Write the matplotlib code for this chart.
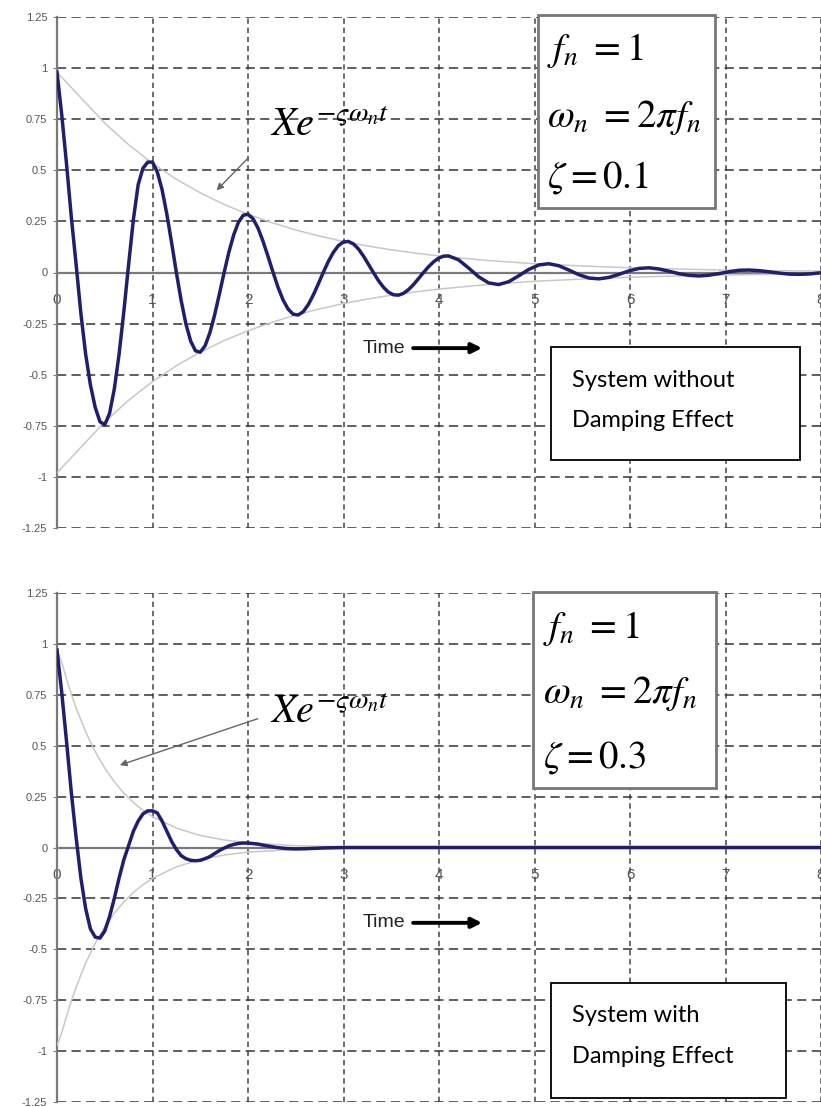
import numpy as np
import matplotlib
matplotlib.use("Agg")
import matplotlib.pyplot as plt
from matplotlib.patches import Rectangle

plt.rcParams['font.family'] = ['Liberation Sans', 'DejaVu Sans']
plt.rcParams['mathtext.fontset'] = 'stix'

# --- data ---
# zeta = 0.1 response
t_low = [0.0, 0.05, 0.1, 0.15, 0.2, 0.25, 0.3, 0.35, 0.4, 0.45,
         0.5, 0.55, 0.6, 0.65, 0.7, 0.75, 0.8, 0.85, 0.9, 0.95,
         1.0, 1.05, 1.1, 1.15, 1.2, 1.25, 1.3, 1.35, 1.4, 1.45,
         1.5, 1.55, 1.6, 1.65, 1.7, 1.75, 1.8, 1.85, 1.9, 1.95,
         2.0, 2.053, 2.105, 2.158, 2.21, 2.263, 2.315, 2.368, 2.42, 2.473,
         2.525, 2.578, 2.63, 2.683, 2.735, 2.788, 2.84, 2.893, 2.945, 2.998,
         3.05, 3.103, 3.155, 3.208, 3.26, 3.313, 3.365, 3.418, 3.47, 3.523,
         3.575, 3.628, 3.68, 3.733, 3.785, 3.838, 3.89, 3.943, 3.995, 4.048,
         4.1, 4.205, 4.31, 4.415, 4.52, 4.625, 4.73, 4.835, 4.94, 5.045,
         5.15, 5.255, 5.36, 5.465, 5.57, 5.675, 5.78, 5.885, 5.99, 6.095,
         6.2, 6.305, 6.41, 6.515, 6.62, 6.725, 6.83, 6.935, 7.04, 7.145,
         7.25, 7.355, 7.46, 7.565, 7.67, 7.775, 7.88, 7.985, 8.09]
x_low = [0.98, 0.77, 0.53, 0.27, 0.04, -0.20, -0.40, -0.55, -0.66, -0.73,
         -0.745, -0.69, -0.57, -0.40, -0.19, 0.04, 0.26, 0.43, 0.51, 0.54,
         0.54, 0.492, 0.406, 0.286, 0.146, 0.0, -0.137, -0.252, -0.336, -0.383,
         -0.39, -0.359, -0.296, -0.209, -0.106, 0.0, 0.10, 0.184, 0.246, 0.28,
         0.285, 0.263, 0.217, 0.152, 0.078, 0.0, -0.073, -0.135, -0.179, -0.204,
         -0.208, -0.192, -0.158, -0.111, -0.057, 0.0, 0.053, 0.098, 0.131, 0.149,
         0.152, 0.14, 0.116, 0.081, 0.041, 0.0, -0.039, -0.072, -0.096, -0.109,
         -0.111, -0.102, -0.084, -0.059, -0.03, 0.0, 0.028, 0.052, 0.07, 0.08,
         0.081, 0.062, 0.022, -0.021, -0.051, -0.059, -0.045, -0.016, 0.015, 0.037,
         0.043, 0.033, 0.012, -0.011, -0.027, -0.031, -0.024, -0.009, 0.008, 0.02,
         0.023, 0.017, 0.006, -0.006, -0.014, -0.017, -0.013, -0.005, 0.004, 0.011,
         0.012, 0.009, 0.003, -0.003, -0.008, -0.009, -0.007, -0.002, 0.002]
t_env_low = [0, 0.25, 0.5, 0.75, 1, 1.25, 1.5, 1.75, 2, 2.25, 2.5, 2.75, 3,
             3.25, 3.5, 3.75, 4, 4.5, 5, 5.5, 6, 6.5, 7, 7.5, 8]
env_low = [0.98, 0.855, 0.731, 0.625, 0.534, 0.456, 0.39, 0.333, 0.285, 0.244,
           0.208, 0.178, 0.152, 0.13, 0.111, 0.095, 0.081, 0.059, 0.043, 0.032,
           0.023, 0.017, 0.012, 0.009, 0.007]

# zeta = 0.3 response
t_high = [0.0, 0.05, 0.1, 0.15, 0.2, 0.25, 0.3, 0.35, 0.4, 0.45,
          0.5, 0.55, 0.6, 0.65, 0.7, 0.75, 0.8, 0.85, 0.9, 0.95,
          1.0, 1.05, 1.1, 1.15, 1.2, 1.25, 1.3, 1.35, 1.4, 1.45,
          1.5, 1.55, 1.6, 1.65, 1.7, 1.75, 1.8, 1.85, 1.9, 1.95,
          2.0, 2.1, 2.2, 2.3, 2.4, 2.5, 2.6, 2.8, 3.0, 4.0, 5.0, 6.0, 7.0, 8.0]
x_high = [0.97, 0.76, 0.52, 0.27, 0.05, -0.15, -0.30, -0.40, -0.44, -0.445,
          -0.41, -0.34, -0.25, -0.15, -0.06, 0.01, 0.08, 0.13, 0.165, 0.18,
          0.18, 0.17, 0.13, 0.08, 0.03, -0.01, -0.04, -0.055, -0.063, -0.065,
          -0.063, -0.055, -0.045, -0.03, -0.015, -0.003, 0.008, 0.015, 0.02, 0.022,
          0.022, 0.017, 0.008, 0.0, -0.005, -0.007, -0.006, -0.002, 0.0, 0.0,
          0.0, 0.0, 0.0, 0.0]
t_env_high = [0, 0.05, 0.1, 0.15, 0.2, 0.3, 0.4, 0.5, 0.6, 0.7, 0.8, 0.9, 1.0,
              1.25, 1.5, 1.75, 2, 2.5, 3, 4, 5, 6, 7, 8]
env_high = [0.97, 0.91, 0.828, 0.754, 0.686, 0.568, 0.471, 0.39, 0.323, 0.267,
            0.221, 0.183, 0.152, 0.095, 0.059, 0.037, 0.023, 0.009, 0.0035,
            0.0005, 0.0, 0.0, 0.0, 0.0]

x_ticks = [0, 1, 2, 3, 4, 5, 6, 7, 8]
y_ticks = [1.25, 1, 0.75, 0.5, 0.25, 0, -0.25, -0.5, -0.75, -1, -1.25]
y_labels = ['1.25', '1', '0.75', '0.5', '0.25', '0', '-0.25', '-0.5', '-0.75', '-1', '-1.25']

W, H = 821, 1107


def fx(px):
    return px / W


def fy(py):
    return 1 - py / H


fig = plt.figure(figsize=(W / 100, H / 100), dpi=100)
ax1 = fig.add_axes([fx(57), fy(528), 764 / W, 511 / H])
ax2 = fig.add_axes([fx(57), fy(1102), 764 / W, 509 / H])


def style(ax):
    ax.set_xlim(0, 8)
    ax.set_ylim(-1.25, 1.25)
    ax.set_xticks(x_ticks)
    ax.set_xticklabels([str(v) for v in x_ticks])
    ax.set_yticks(y_ticks)
    ax.set_yticklabels(y_labels)
    ax.set_axisbelow(True)
    ax.grid(axis='y', color='#333333', lw=1.1, linestyle=(0, (6, 3.5)))
    ax.grid(axis='x', color='#444444', lw=1.1, linestyle=(0, (3.5, 2.5)))
    for s in ['top', 'right']:
        ax.spines[s].set_visible(False)
    ax.spines['bottom'].set_position(('data', 0))
    ax.spines['bottom'].set_color('#7a7a7a')
    ax.spines['bottom'].set_linewidth(1.6)
    ax.spines['left'].set_color('#7a7a7a')
    ax.spines['left'].set_linewidth(1.6)
    ax.tick_params(axis='x', length=0, pad=15, labelsize=11, labelcolor='#555555')
    ax.tick_params(axis='y', length=3, pad=4, labelsize=8, labelcolor='#555555',
                   color='#7a7a7a')


for ax, t, x, te, env, lbl_y, arr_from, arr_to in [
        (ax1, t_low, x_low, t_env_low, env_low, 0.667, (2.02, 0.569), (1.65, 0.392)),
        (ax2, t_high, x_high, t_env_high, env_high, 0.613, (2.13, 0.637), (0.63, 0.40))]:
    style(ax)
    ax.plot(te, env, color='#c8c8c8', lw=1.1, zorder=3)
    ax.plot(te, [-v for v in env], color='#c8c8c8', lw=1.1, zorder=3)
    ax.plot(t, x, color='#1f1f6e', lw=2.5, zorder=4)
    ax.annotate('', xy=arr_to, xytext=arr_from,
                arrowprops=dict(arrowstyle='-|>', color='#666666', lw=1.0,
                                mutation_scale=10))
    ax.text(2.23, lbl_y, r'$Xe^{-\varsigma\omega_n t}$', fontsize=29, va='baseline')
    ax.text(3.2, -0.37, 'Time', fontsize=14, va='center', ha='left', color='#222222')
    ax.annotate('', xy=(4.48, -0.37), xytext=(3.7, -0.37),
                arrowprops=dict(arrowstyle='-|>', color='black', lw=2.8,
                                mutation_scale=15))

# parameter boxes
for (x0, y0, x1, y1), zeta, tx, bases in [
        ((538, 15, 715, 208), '0.1', 547, (60, 127, 188)),
        ((533, 592, 716, 788), '0.3', 543, (638, 703, 768))]:
    fig.add_artist(Rectangle((fx(x0), fy(y1)), (x1 - x0) / W, (y1 - y0) / H,
                             transform=fig.transFigure, facecolor='white',
                             edgecolor='#777777', lw=2.0))
    lines = [r'$f_n\ = 1$', r'$\omega_n\ = 2\pi f_n$', r'$\zeta = ' + zeta + '$']
    for s, b in zip(lines, bases):
        fig.text(fx(tx), fy(b), s, fontsize=28, va='baseline', ha='left')

# description boxes
for (x0, y0, x1, y1), txt, bases in [
        ((551, 347, 800, 460), ['System without', 'Damping Effect'], (387, 427)),
        ((551, 983, 786, 1098), ['System with', 'Damping Effect'], (1022, 1063))]:
    fig.add_artist(Rectangle((fx(x0), fy(y1)), (x1 - x0) / W, (y1 - y0) / H,
                             transform=fig.transFigure, facecolor='white',
                             edgecolor='black', lw=1.3))
    for s, b in zip(txt, bases):
        fig.text(fx(572), fy(b), s, fontsize=17, va='baseline', ha='left',
                 family=['Lato', 'DejaVu Sans'])

fig.savefig('out.png', dpi=100)
